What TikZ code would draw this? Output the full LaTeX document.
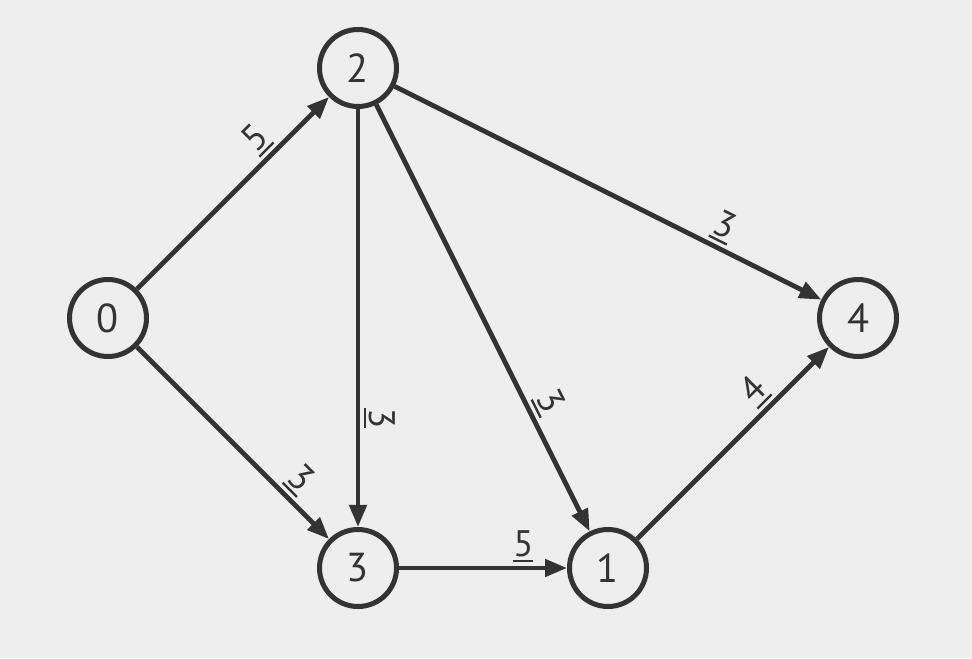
\documentclass[tikz,border=0pt]{standalone}
\usepackage{fontspec}
\setmainfont{PT Sans}
\usetikzlibrary{arrows.meta}
\definecolor{canvasGray}{RGB}{238,238,238}
\definecolor{inkDark}{RGB}{51,51,51}
\newcommand{\wbar}[1]{\vtop{\hbox{#1}\kern1.6pt\hrule height 1.3pt}}
\tikzset{
  vertex node/.style={circle,draw=inkDark,fill=canvasGray,line width=2.85pt,text=inkDark,font=\fontsize{23}{27}\selectfont,minimum size=15.4mm,inner sep=0pt},
  weight arrow/.style={-{Triangle[length=4.4mm,width=3.4mm]},line width=2.7pt,draw=inkDark},
  weight label/.style={sloped,above,inner sep=2pt,text=inkDark,font=\fontsize{21}{24}\selectfont}
}
\begin{document}
\begin{tikzpicture}
        \fill[canvasGray] (0,0) rectangle (19.44,13.16);
        \useasboundingbox (0,0) rectangle (19.44,13.16);
        \node[vertex node] (v0) at (2.16,6.8) {0};
        \node[vertex node] (v2) at (7.16,11.8) {2};
        \node[vertex node] (v4) at (17.16,6.8) {4};
        \node[vertex node] (v3) at (7.16,1.8) {3};
        \node[vertex node] (v1) at (12.16,1.8) {1};
        \draw[weight arrow] (v0) -- node[weight label,pos=.7] {\wbar{5}} (v2);
        \draw[weight arrow] (v0) -- node[weight label,pos=.77] {\wbar{3}} (v3);
        \draw[weight arrow] (v2) -- node[weight label,pos=.74] {\wbar{3}} (v3);
        \draw[weight arrow] (v2) -- node[weight label,pos=.72] {\wbar{3}} (v1);
        \draw[weight arrow] (v2) -- node[weight label,pos=.75] {\wbar{3}} (v4);
        \draw[weight arrow] (v3) -- node[weight label,pos=.74] {\wbar{5}} (v1);
        \draw[weight arrow] (v1) -- node[weight label,pos=.69] {\wbar{4}} (v4);
      \end{tikzpicture}
\end{document}
